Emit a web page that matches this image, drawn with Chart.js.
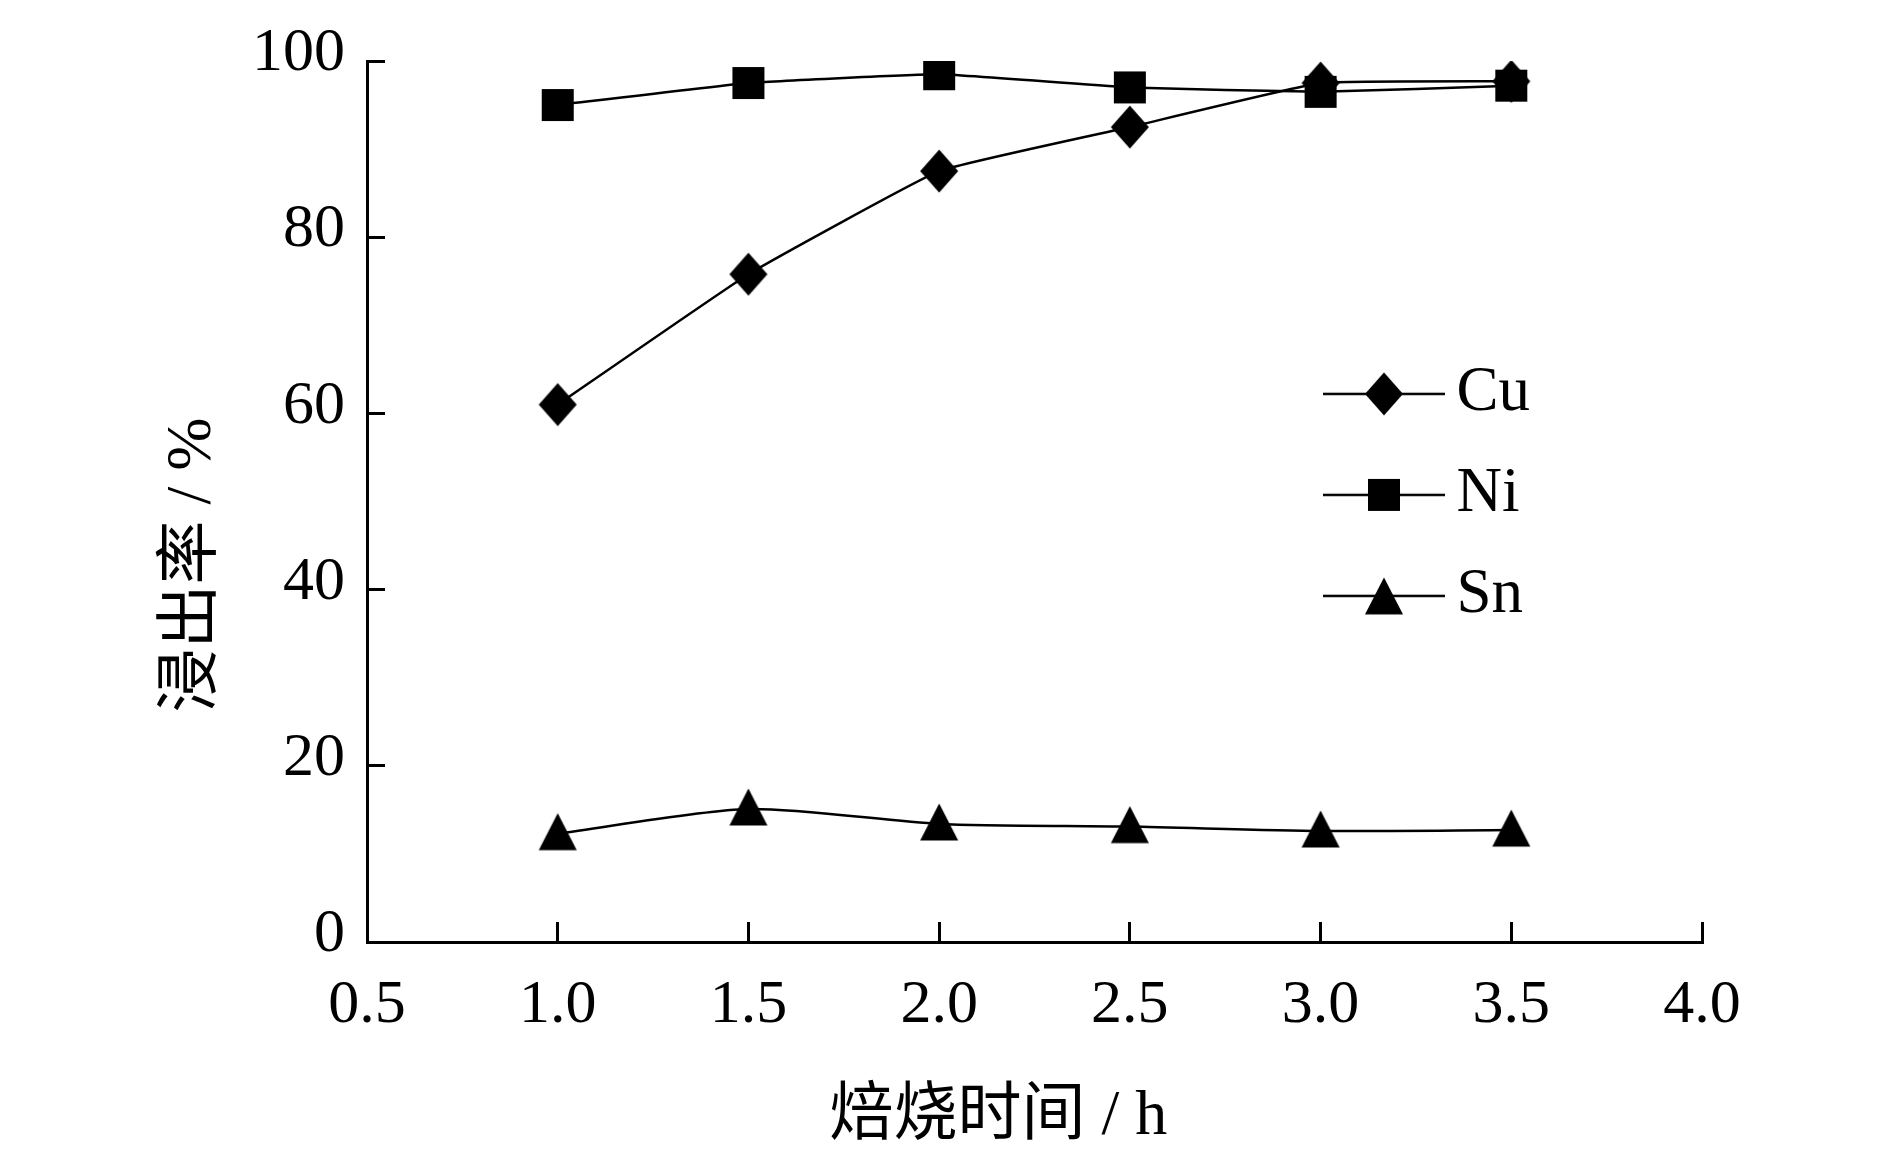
<!DOCTYPE html>
<html>
<head>
<meta charset="utf-8">
<script src="https://cdn.jsdelivr.net/npm/chart.js@4.4.1/dist/chart.umd.min.js"></script>
<style>
  html, body { margin: 0; padding: 0; background: #fff; }
  #wrap { width: 1890px; height: 1157px; }
</style>
</head>
<body>
<div id="wrap"><canvas id="chart" width="1890" height="1157"></canvas></div>
<script>
// values
const roastTimes = [1.0, 1.5, 2.0, 2.5, 3.0, 3.5];
const cuValues = [61.0, 75.8, 87.5, 92.5, 97.5, 97.7];
const niValues = [95.0, 97.5, 98.5, 97.0, 96.5, 97.2];
const snValues = [12.3, 15.1, 13.4, 13.1, 12.6, 12.7];
const seriesNames = ['Cu', 'Ni', 'Sn'];
const xTicks = [0.5, 1.0, 1.5, 2.0, 2.5, 3.0, 3.5, 4.0];
const yTicks = [0, 20, 40, 60, 80, 100];
const xTitle = '焙烧时间 / h';
const yTitle = '浸出率 / %';

const serif = '"Liberation Serif", "Times New Roman", serif';
const mixed = '"Liberation Serif", "Noto Sans CJK SC", serif';

// marker shapes, cy is the data point
function drawShape(ctx, shape, cx, cy, legend) {
  ctx.beginPath();
  if (shape === 'diamond') {
    ctx.moveTo(cx, cy - 21.5);
    ctx.lineTo(cx + 19, cy);
    ctx.lineTo(cx, cy + 21.5);
    ctx.lineTo(cx - 19, cy);
  } else if (shape === 'square') {
    ctx.rect(cx - 16, cy - 16, 32, 32);
  } else {
    const up = legend ? 18.5 : 20.5;
    ctx.moveTo(cx, cy - up);
    ctx.lineTo(cx + 19, cy - up + 37);
    ctx.lineTo(cx - 19, cy - up + 37);
  }
  ctx.closePath();
  ctx.fill();
}

function markerCanvas(shape) {
  const c = document.createElement('canvas');
  c.width = 44; c.height = 48;
  const ctx = c.getContext('2d');
  ctx.fillStyle = '#000';
  drawShape(ctx, shape, 22, 24, false);
  return c;
}

function legendCanvas(shape) {
  const c = document.createElement('canvas');
  c.width = 122; c.height = 48;
  const ctx = c.getContext('2d');
  ctx.strokeStyle = '#000';
  ctx.lineWidth = 2.5;
  ctx.beginPath();
  ctx.moveTo(0, 24);
  ctx.lineTo(122, 24);
  ctx.stroke();
  ctx.fillStyle = '#000';
  drawShape(ctx, shape, 61, 24, true);
  return c;
}

const shapes = ['diamond', 'square', 'triangle'];
const markers = shapes.map(markerCanvas);
const legendIcons = shapes.map(legendCanvas);

function series(values) {
  return roastTimes.map((t, i) => ({ x: t, y: values[i] }));
}

// move the legend into the plot, right of centre
const legendPlacer = {
  id: 'legendPlacer',
  afterLayout(chart) {
    const lg = chart.legend, ca = chart.chartArea;
    const w = lg.width;
    lg.left = ca.left + 0.7026 * (ca.right - ca.left);
    lg.top = ca.top + 0.299 * (ca.bottom - ca.top);
    lg.right = lg.left + w;
    lg.height = 400;
    lg.bottom = lg.top + 400;
  }
};

// axis titles sit a little off-centre in the original
const axisTitles = {
  id: 'axisTitles',
  afterDraw(chart) {
    const { ctx, chartArea: ca } = chart;
    ctx.save();
    ctx.font = '64px ' + mixed;
    ctx.fillStyle = '#000';
    ctx.textAlign = 'center';
    ctx.textBaseline = 'middle';
    ctx.fillText(xTitle, ca.left + 0.473 * (ca.right - ca.left), ca.bottom + 175);
    ctx.translate(ca.left - 174, ca.top + 0.572 * (ca.bottom - ca.top));
    ctx.rotate(-Math.PI / 2);
    ctx.fillText(yTitle, 0, 0);
    ctx.restore();
  }
};

const ctx = document.getElementById('chart').getContext('2d');
new Chart(ctx, {
  type: 'line',
  data: {
    datasets: [
      { label: seriesNames[0], data: series(cuValues), pointStyle: markers[0], order: 1, tension: 0.1 },
      { label: seriesNames[1], data: series(niValues), pointStyle: markers[1], order: 0, tension: 0.1 },
      { label: seriesNames[2], data: series(snValues), pointStyle: markers[2], order: 2, tension: 0.25 }
    ].map(ds => Object.assign({
      borderColor: '#000',
      backgroundColor: '#000',
      borderWidth: 2.5,
      pointRadius: 12,
      fill: false
    }, ds))
  },
  options: {
    responsive: false,
    animation: false,
    layout: { autoPadding: false, padding: { left: 0, right: 188, top: 61, bottom: 0 } },
    plugins: {
      tooltip: { enabled: false },
      legend: {
        position: 'chartArea',
        align: 'start',
        labels: {
          usePointStyle: true,
          pointStyleWidth: 82,
          padding: 38,
          color: '#000',
          font: { family: serif, size: 63 },
          generateLabels: chart => chart.data.datasets.map((ds, i) => ({
            text: ds.label,
            pointStyle: legendIcons[i],
            fillStyle: '#000',
            strokeStyle: '#000',
            lineWidth: 0,
            hidden: false,
            datasetIndex: i,
            fontColor: '#000'
          }))
        }
      }
    },
    scales: {
      x: {
        type: 'linear',
        min: 0.5,
        max: 4.0,
        afterBuildTicks: s => { s.ticks = xTicks.map(v => ({ value: v })); },
        afterFit: s => { s.height = 215; },
        border: { display: true, color: '#000', width: 3 },
        grid: { drawOnChartArea: false, drawTicks: true, tickLength: -20, tickWidth: 3, tickColor: '#000' },
        ticks: {
          callback: v => v.toFixed(1),
          color: '#000',
          font: { family: serif, size: 62, lineHeight: 1 },
          padding: 53,
          maxRotation: 0,
          autoSkip: false
        }
      },
      y: {
        min: 0,
        max: 100,
        afterBuildTicks: s => { s.ticks = yTicks.map(v => ({ value: v })); },
        // fixed width, and keep the label padding from pushing the plot down
        afterFit: s => { s.width = 367; s.paddingTop = 0; s.paddingBottom = 0; },
        border: { display: true, color: '#000', width: 3 },
        grid: { drawOnChartArea: false, drawTicks: true, tickLength: -18, tickWidth: 3, tickColor: '#000' },
        ticks: {
          color: '#000',
          font: { family: serif, size: 62, lineHeight: 1 },
          padding: 40,
          labelOffset: -7
        }
      }
    }
  },
  plugins: [legendPlacer, axisTitles]
});
</script>
</body>
</html>
